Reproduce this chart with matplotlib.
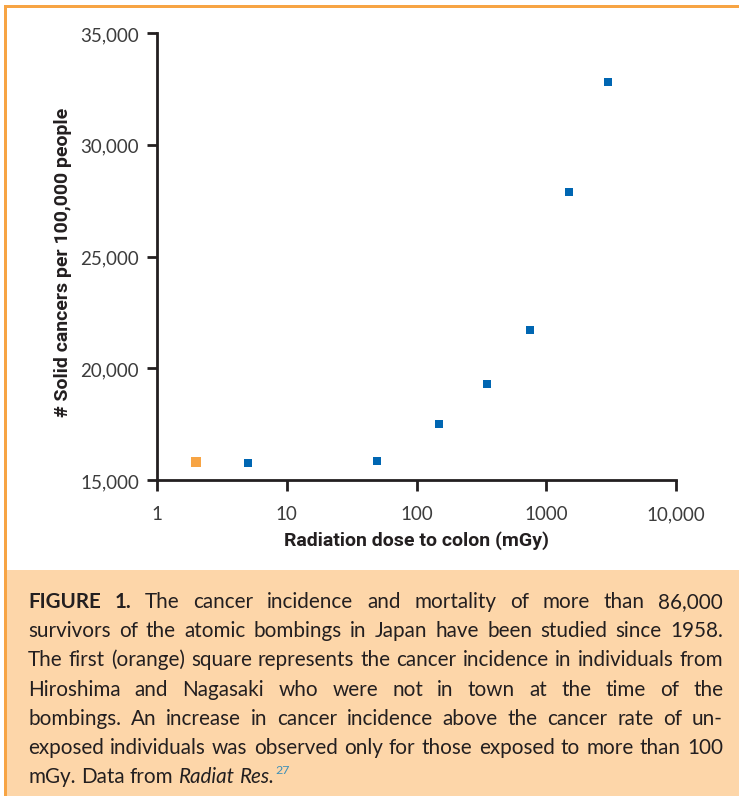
import matplotlib
matplotlib.use("Agg")
import matplotlib.pyplot as plt
import matplotlib.ticker as ticker
from matplotlib.patches import Rectangle
from matplotlib.font_manager import FontProperties

# ---------------- data ----------------
unexposed_dose = [2]
unexposed_rate = [15800]
exposed_dose = [5, 50, 150, 350, 750, 1500, 3000]
exposed_rate = [15760, 15850, 17500, 19300, 21700, 27900, 32800]

x_ticks = [1, 10, 100, 1000, 10000]
x_tick_labels = ["1", "10", "100", "1000", "10,000"]
y_ticks = [15000, 20000, 25000, 30000, 35000]
y_tick_labels = ["15,000", "20,000", "25,000", "30,000", "35,000"]

x_title = "Radiation dose to colon (mGy)"
y_title = "# Solid cancers per 100,000 people"

caption = [
    "FIGURE 1. The cancer incidence and mortality of more than 86,000",
    "survivors of the atomic bombings in Japan have been studied since 1958.",
    "The first (orange) square represents the cancer incidence in individuals from",
    "Hiroshima and Nagasaki who were not in town at the time of the",
    "bombings. An increase in cancer incidence above the cancer rate of un-",
    "exposed individuals was observed only for those exposed to more than 100",
    "mGy. Data from Radiat Res.",
]
bold_words = ["FIGURE", "1."]
italic_words = ["Radiat", "Res."]
ref_number = "27"

# ---------------- style ----------------
W, H = 739, 803
ORANGE = "#f7a444"
PEACH = "#fdd6a9"
BLUE = "#0066b2"
DARK = "#231f20"
GREY = "#3c3c3c"

def fx(px):
    return px / W

def fy(py):
    return 1 - py / H

fig = plt.figure(figsize=(W / 100, H / 100), dpi=100)
fig.patch.set_facecolor("white")

# frame: orange border on top/left, peach caption box (drawn below the axes)
fig.patches.append(Rectangle((fx(4), fy(797)), fx(739) - fx(4), fy(6) - fy(797),
                             transform=fig.transFigure, facecolor=ORANGE, edgecolor="none", zorder=-3))
fig.patches.append(Rectangle((fx(7), fy(571)), fx(739) - fx(7), fy(9) - fy(571),
                             transform=fig.transFigure, facecolor="white", edgecolor="none", zorder=-2))
fig.patches.append(Rectangle((fx(7), fy(797)), fx(739) - fx(7), fy(571) - fy(797),
                             transform=fig.transFigure, facecolor=PEACH, edgecolor="none", zorder=-2))

# ---------------- axes ----------------
ax = fig.add_axes([fx(157), fy(481), (676 - 157) / W, (481 - 34) / H])
ax.set_facecolor("none")
ax.set_xscale("log")
ax.set_xlim(1, 10000)
ax.set_ylim(15000, 35000)

ax.plot(unexposed_dose, unexposed_rate, linestyle="none", marker="s", markersize=7.2,
        markeredgewidth=0, color=ORANGE, clip_on=False, zorder=3)
ax.plot(exposed_dose, exposed_rate, linestyle="none", marker="s", markersize=5.7,
        markeredgewidth=0, color=BLUE, clip_on=False, zorder=3)

for s in ["top", "right"]:
    ax.spines[s].set_visible(False)
for s in ["left", "bottom"]:
    ax.spines[s].set_linewidth(2)
    ax.spines[s].set_color(DARK)

ax.set_xticks(x_ticks)
ax.set_xticklabels(x_tick_labels)
ax.xaxis.set_minor_locator(ticker.NullLocator())
ax.set_yticks(y_ticks)
ax.set_yticklabels(y_tick_labels)

for lab in ax.get_xticklabels() + ax.get_yticklabels():
    lab.set_fontfamily(["Lato", "DejaVu Sans"])
    lab.set_fontweight("normal")
    lab.set_fontsize(13.5)
    lab.set_color(GREY)
ax.tick_params(axis="x", length=8, width=2, color=DARK, pad=10, direction="out")
ax.tick_params(axis="y", length=7, width=2, color=DARK, pad=6, direction="out")

label_font = dict(family=["Roboto", "DejaVu Sans"], weight="bold", size=14, color=DARK)
fig.text(fx(417), fy(541), x_title, ha="center", va="center", **label_font)
fig.text(fx(63), fy(262), y_title, ha="center", va="center", rotation=90, **label_font)

# ---------------- caption (justified) ----------------
renderer = fig.canvas.get_renderer()
TEXT_L, TEXT_R = 28, 723
BASE0, STEP = 608, 29.2
cap_family = ["Lato", "DejaVu Sans"]

def props(word, size):
    weight = "bold" if word in bold_words else "normal"
    style = "italic" if word in italic_words else "normal"
    return FontProperties(family=cap_family, weight=weight, style=style, size=size)

def width(s, fp):
    return renderer.get_text_width_height_descent(s, fp, ismath=False)[0]

# pick size so the tightest line just fills the column
ref = 10
natural = []
for line in caption[:-1]:
    words = line.split()
    natural.append(sum(width(w, props(w, ref)) for w in words)
                   + (len(words) - 1) * width(" ", props("x", ref)))
cap_size = ref * (TEXT_R - TEXT_L - 6) / max(natural)

for i, line in enumerate(caption):
    words = line.split()
    ws = [width(w, props(w, cap_size)) for w in words]
    if i < len(caption) - 1:
        gap = (TEXT_R - TEXT_L - sum(ws)) / (len(words) - 1)
    else:
        gap = width(" ", props("x", cap_size))
    x = TEXT_L
    y = BASE0 + i * STEP
    for w, wd in zip(words, ws):
        fig.text(fx(x), fy(y), w, fontproperties=props(w, cap_size),
                 ha="left", va="baseline", color=DARK)
        x += wd + gap
    if i == len(caption) - 1:
        fig.text(fx(x - gap + 1), fy(y - 9), ref_number, ha="left", va="baseline",
                 family=cap_family, size=cap_size * 0.6, color="#3d8fb8")

fig.savefig("out.png", dpi=100)
